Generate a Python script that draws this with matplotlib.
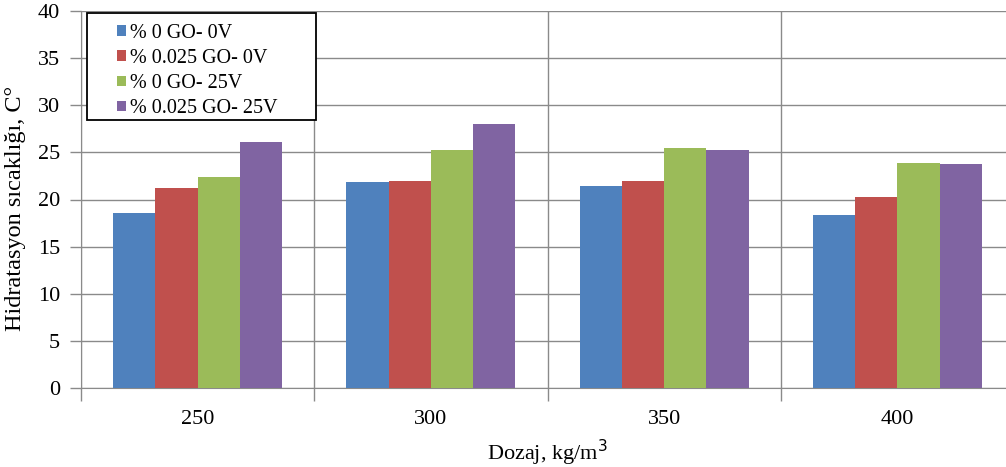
import matplotlib
matplotlib.use("Agg")
import matplotlib.pyplot as plt
from matplotlib.patches import Rectangle
import numpy as np

categories = ["250", "300", "350", "400"]
series_labels = ["% 0 GO- 0V", "% 0.025 GO- 0V", "% 0 GO- 25V", "% 0.025 GO- 25V"]
s_0go_0v = [18.6, 21.9, 21.4, 18.4]
s_025go_0v = [21.2, 22.0, 22.0, 20.3]
s_0go_25v = [22.4, 25.2, 25.45, 23.9]
s_025go_25v = [26.1, 28.0, 25.3, 23.8]
colors = ["#4F81BD", "#C0504D", "#9BBB59", "#8064A2"]

plt.rcParams["font.family"] = ["Liberation Serif", "DejaVu Serif"]

fig = plt.figure(figsize=(10.06, 4.67), dpi=100)
ax = fig.add_axes([81 / 1006, 1 - 388 / 467, 933 / 1006, 377 / 467])

x = np.arange(len(categories))
width = 0.181
all_series = [s_0go_0v, s_025go_0v, s_0go_25v, s_025go_25v]
for i, (vals, lab, col) in enumerate(zip(all_series, series_labels, colors)):
    ax.bar(x + (i - 1.5) * width, vals, width, color=col, label=lab, zorder=3)

ax.set_xlim(-0.5, len(categories) - 0.5)
ax.set_ylim(0, 40)
ax.set_yticks(np.arange(0, 41, 5))
ax.set_xticks(x)
ax.set_xticklabels(categories)
ax.set_xticks(np.arange(-0.5, len(categories)), minor=True)

grid_col = "#8a8a8a"
ax.grid(axis="y", which="major", color=grid_col, linewidth=1, zorder=0)
ax.grid(axis="x", which="minor", color=grid_col, linewidth=1, zorder=0)
ax.tick_params(axis="x", which="major", length=0, labelsize=16, pad=16)
ax.tick_params(axis="x", which="minor", length=9, color=grid_col, width=1)
ax.tick_params(axis="y", length=8, color=grid_col, width=1, labelsize=16, pad=7)
for sp in ["top", "right"]:
    ax.spines[sp].set_visible(False)
for sp in ["left", "bottom"]:
    ax.spines[sp].set_color(grid_col)

ax.set_ylabel("Hidratasyon sıcaklığı, C°", fontsize=17.5)
ax.yaxis.set_label_coords(-0.059, 0.477)
ax.set_xlabel("Dozaj, kg/m$^3$", fontsize=16)
ax.xaxis.set_label_coords(0.5, -0.132)

# legend frame (white box with black edge), legend text drawn without frame
ax.add_patch(Rectangle((0.0064, 0.7109), 0.2455, 0.2838, transform=ax.transAxes,
                       facecolor="white", edgecolor="black", linewidth=1.3, zorder=5))
leg = ax.legend(loc="upper left", bbox_to_anchor=(0.0386, 0.9655), borderaxespad=0,
                frameon=False, fontsize=14.5, borderpad=0,
                handlelength=0.45, handleheight=0.45, handletextpad=0.2,
                labelspacing=0.3)
leg.set_zorder(6)

fig.savefig("out.png", dpi=100)
